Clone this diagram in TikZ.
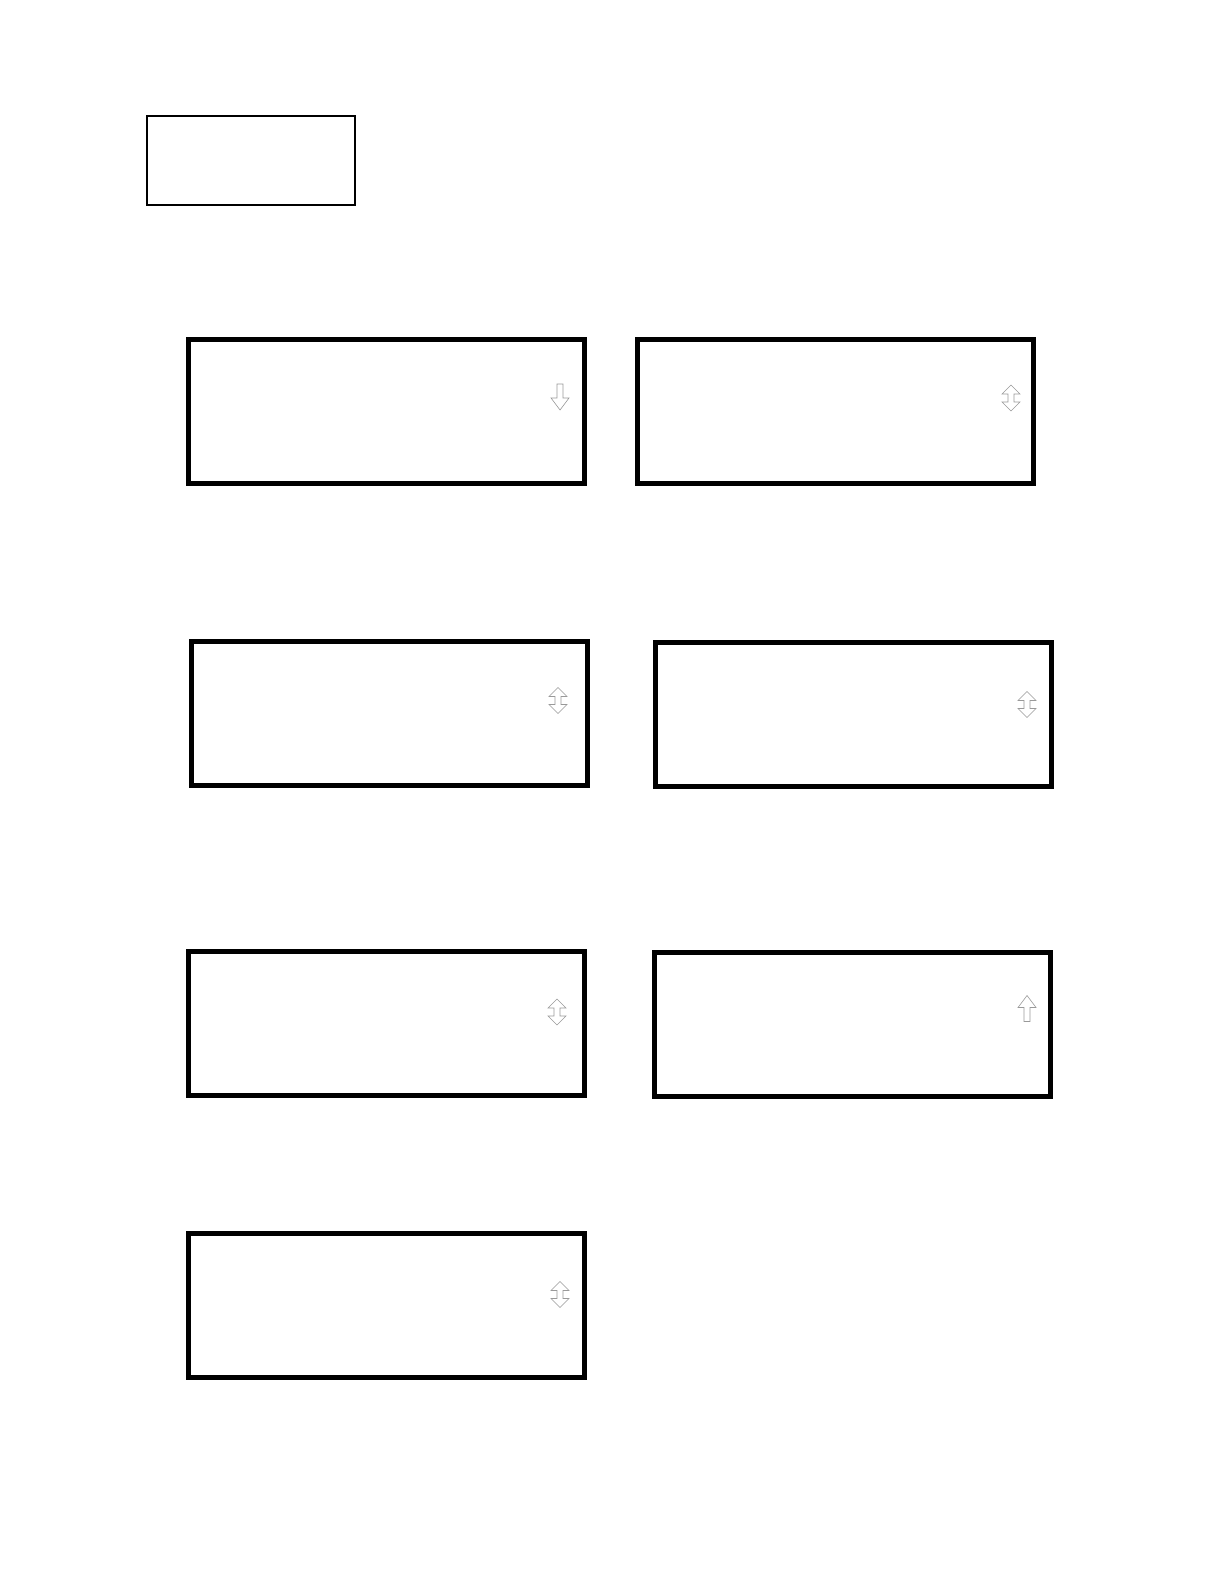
\documentclass[tikz,border=0pt]{standalone}
\tikzset{
    screen/.style={draw, line width=5pt, minimum width=396pt, minimum height=144pt, inner sep=0pt},
    title box/.style={draw, line width=2pt, minimum width=208pt, minimum height=89pt, inner sep=0pt},
    scroll/.style={draw=gray!80, line width=0.6pt, fill=white},
    arrow down/.pic={\draw[scroll] (-3,-13) -- (3,-13) -- (3,1) -- (9,1) -- (0,13) -- (-9,1) -- (-3,1) -- cycle;},
    arrow up/.pic={\draw[scroll] (-3,13) -- (3,13) -- (3,-1) -- (9,-1) -- (0,-13) -- (-9,-1) -- (-3,-1) -- cycle;},
    arrow both/.pic={\draw[scroll] (0,-13) -- (9,-4) -- (3,-4) -- (3,4) -- (9,4) -- (0,13) -- (-9,4) -- (-3,4) -- (-3,-4) -- (-9,-4) -- cycle;}
}
\begin{document}
\begin{tikzpicture}[x=1pt,y=-1pt]
        \useasboundingbox (0,0) rectangle (1224,1584);
        \node[title box] (title) at (251,160.5) {};
        % menu screens
        \node[screen] (s1) at (386.5,411.5) {};
        \node[screen] (s2) at (835,411) {};
        \node[screen] (s3) at (389,713.5) {};
        \node[screen] (s4) at (853.5,714.5) {};
        \node[screen] (s5) at (386.5,1023.5) {};
        \node[screen] (s6) at (852.5,1024.5) {};
        \node[screen] (s7) at (386.5,1305.5) {};
        % scroll marks
        \pic at (560,397) {arrow down};
        \pic at (1011,398) {arrow both};
        \pic at (558,700.5) {arrow both};
        \pic at (1027,704.5) {arrow both};
        \pic at (557,1012) {arrow both};
        \pic at (1027,1008.5) {arrow up};
        \pic at (560,1294.5) {arrow both};
    \end{tikzpicture}
\end{document}
